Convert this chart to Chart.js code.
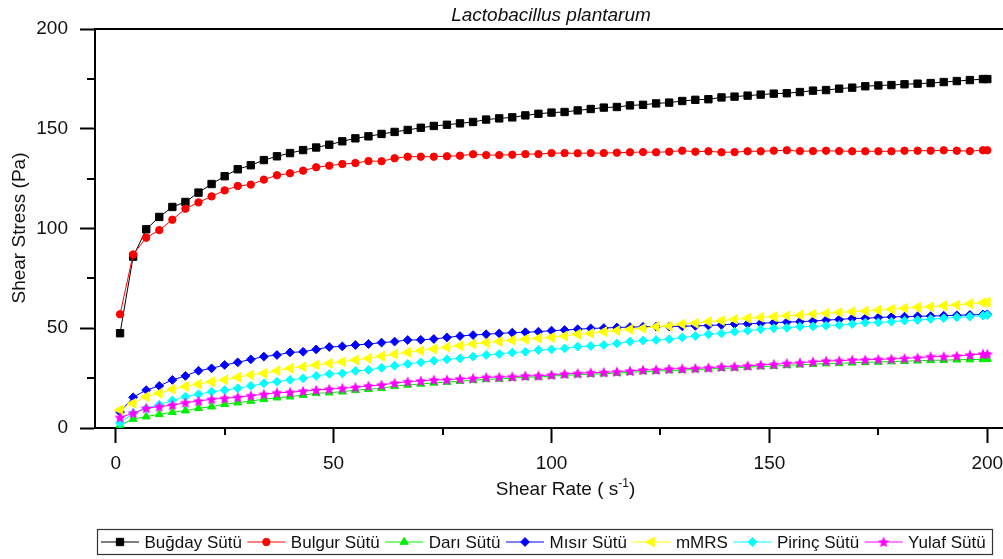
<!DOCTYPE html>
<html>
<head>
<meta charset="utf-8">
<title>Lactobacillus plantarum</title>
<script src="https://cdn.jsdelivr.net/npm/chart.js@4.4.1/dist/chart.umd.min.js"></script>
<style>
  html, body { margin: 0; padding: 0; background: #fff; overflow: hidden; }
  #wrap { width: 1003px; height: 559px; }
</style>
</head>
<body>
<div id="wrap"><canvas id="flowChart" width="1003" height="559"></canvas></div>
<script>
// shear rate steps (1/s)
const shearRate = [1, 4, 7, 10, 13, 16, 19, 22, 25, 28, 31, 34, 37, 40, 43, 46, 49, 52, 55, 58,
    61, 64, 67, 70, 73, 76, 79, 82, 85, 88, 91, 94, 97, 100, 103, 106, 109, 112, 115, 118,
    121, 124, 127, 130, 133, 136, 139, 142, 145, 148, 151, 154, 157, 160, 163, 166, 169, 172, 175, 178,
    181, 184, 187, 190, 193, 196, 199, 200];

// shear stress (Pa) for each sample
const bugday = [47.5, 85.9, 99.6, 105.8, 110.8, 113.3, 118.0, 122.3, 126.2, 129.7,
    131.7, 134.3, 136.2, 137.8, 139.3, 140.6, 142.0, 143.7, 145.2, 146.2,
    147.4, 148.4, 149.4, 150.5, 151.4, 152.0, 152.7, 153.4, 154.6, 155.2,
    155.7, 156.7, 157.5, 158.1, 158.4, 159.2, 159.9, 160.6, 160.9, 161.7,
    162.0, 162.7, 163.1, 163.9, 164.5, 164.8, 165.7, 166.1, 166.6, 167.1,
    167.6, 167.8, 168.4, 169.1, 169.4, 170.1, 170.6, 171.3, 171.7, 171.9,
    172.3, 172.6, 172.9, 173.4, 173.9, 174.4, 174.9, 174.9];
const bulgur = [57.0, 87.0, 95.4, 99.2, 104.4, 109.9, 113.1, 116.1, 119.1, 121.3,
    122.0, 124.5, 126.7, 127.7, 129.0, 130.7, 131.5, 132.3, 132.8, 133.8,
    133.7, 135.2, 136.0, 136.0, 136.0, 136.2, 136.5, 137.2, 136.8, 136.8,
    137.0, 137.3, 137.3, 137.8, 137.8, 137.7, 137.8, 137.8, 138.0, 138.2,
    138.3, 138.2, 138.5, 139.0, 138.5, 138.7, 138.2, 138.3, 138.7, 138.7,
    139.0, 139.2, 138.8, 138.8, 139.0, 138.8, 138.7, 138.7, 138.7, 138.7,
    139.0, 139.0, 139.0, 139.2, 139.0, 138.8, 139.2, 139.2];
const dari = [1.5, 4.5, 5.7, 6.9, 7.9, 8.7, 9.9, 10.7, 11.9, 12.7,
    13.5, 14.4, 15.2, 15.7, 16.5, 17.4, 17.7, 18.2, 19.0, 19.4,
    19.9, 21.0, 21.6, 22.1, 22.6, 23.0, 23.5, 23.9, 24.4, 24.6,
    25.0, 25.4, 25.6, 26.0, 26.4, 26.7, 27.0, 27.2, 27.5, 27.9,
    28.3, 28.5, 28.8, 29.0, 29.3, 29.6, 29.9, 30.1, 30.5, 30.8,
    31.0, 31.4, 31.7, 32.0, 32.3, 32.4, 32.7, 32.9, 33.1, 33.3,
    33.5, 33.7, 33.9, 34.0, 34.2, 34.3, 34.4, 34.5];
const misir = [8.0, 15.4, 19.0, 21.1, 24.1, 26.1, 28.7, 29.9, 31.6, 32.9,
    34.4, 35.8, 36.6, 37.9, 38.2, 39.4, 40.6, 40.9, 41.6, 42.1,
    42.8, 43.3, 44.1, 44.2, 44.6, 45.4, 46.1, 46.6, 47.0, 47.4,
    47.8, 48.0, 48.3, 48.8, 49.1, 49.5, 49.9, 50.1, 50.4, 50.6,
    50.7, 50.8, 50.9, 51.0, 51.2, 51.4, 51.7, 52.1, 52.2, 52.5,
    52.8, 53.1, 53.3, 53.6, 54.1, 54.4, 54.9, 55.0, 55.4, 55.7,
    55.8, 56.0, 56.1, 56.3, 56.5, 56.7, 56.9, 57.0];
const mmrs = [9.0, 12.4, 15.7, 17.4, 19.4, 20.8, 22.0, 23.2, 24.1, 25.4,
    26.6, 27.4, 28.7, 29.9, 30.7, 31.6, 32.4, 33.2, 34.1, 34.9,
    36.0, 37.0, 37.9, 38.8, 39.6, 40.5, 41.3, 42.1, 42.8, 43.4,
    44.0, 44.5, 45.0, 45.4, 46.1, 47.0, 47.4, 48.3, 48.8, 49.5,
    50.0, 50.8, 51.1, 52.1, 52.5, 53.3, 53.8, 54.5, 55.0, 55.5,
    55.8, 56.3, 56.6, 57.1, 57.5, 58.0, 58.3, 58.6, 59.1, 59.5,
    60.0, 60.5, 60.8, 61.3, 61.7, 62.3, 62.8, 63.0];
const pirinc = [2.5, 7.5, 9.8, 11.7, 13.8, 15.7, 16.9, 18.2, 19.0, 19.9,
    21.1, 22.4, 23.2, 24.1, 24.9, 26.1, 27.1, 27.4, 28.6, 29.1,
    30.2, 31.2, 32.1, 32.9, 33.7, 34.4, 34.9, 35.8, 36.6, 37.1,
    37.8, 38.2, 39.1, 39.4, 39.9, 40.8, 41.1, 41.6, 42.4, 43.3,
    43.8, 44.1, 44.5, 45.4, 46.1, 47.0, 47.4, 48.3, 48.8, 49.5,
    50.0, 50.2, 50.8, 50.9, 51.3, 51.6, 52.1, 52.8, 52.9, 53.3,
    53.8, 54.1, 54.6, 55.0, 55.5, 55.8, 56.3, 56.6];
const yulaf = [5.3, 7.4, 9.9, 10.7, 11.5, 12.7, 13.5, 14.4, 14.9, 15.4,
    16.2, 16.9, 17.7, 17.9, 18.5, 19.0, 19.5, 19.9, 20.4, 21.1,
    21.6, 22.5, 23.2, 23.6, 24.1, 24.2, 24.6, 24.9, 25.4, 25.5,
    25.7, 26.1, 26.2, 26.6, 27.1, 27.4, 27.7, 27.9, 28.2, 28.6,
    29.1, 29.2, 29.6, 29.7, 29.9, 30.2, 30.7, 30.8, 31.2, 31.6,
    31.9, 32.4, 32.7, 33.2, 33.6, 33.7, 34.1, 34.2, 34.4, 34.6,
    34.9, 35.2, 35.8, 35.8, 36.1, 36.6, 37.1, 37.1];

const seriesNames = ['Buğday Sütü', 'Bulgur Sütü', 'Darı Sütü', 'Mısır Sütü', 'mMRS', 'Pirinç Sütü', 'Yulaf Sütü'];
const seriesValues = [bugday, bulgur, dari, misir, mmrs, pirinc, yulaf];
const seriesColors = ['#000000', '#ff0000', '#00ee00', '#0000ff', '#ffff00', '#00ffff', '#ff00ff'];

const xTicks = [0, 50, 100, 150, 200];
const yTicks = [0, 50, 100, 150, 200];
const xMinorTicks = [25, 75, 125, 175];
const yMinorTicks = [25, 75, 125, 175];
const X_MIN = -4.75, X_MAX = 203.6;
const Y_MIN = 0, Y_MAX = 200;

const FONT = '"Liberation Sans", Arial, sans-serif';
const INK = '#111111';

// filled five-point star, used as a point image
function starImage(color, size) {
    const c = document.createElement('canvas');
    c.width = size;
    c.height = size;
    const g = c.getContext('2d');
    const cx = size / 2, cy = size / 2 + 0.5, outer = size / 2, inner = outer * 0.45;
    g.beginPath();
    for (let i = 0; i < 10; i++) {
        const r = i % 2 ? inner : outer;
        const a = -Math.PI / 2 + i * Math.PI / 5;
        g.lineTo(cx + r * Math.cos(a), cy + r * Math.sin(a));
    }
    g.closePath();
    g.fillStyle = color;
    g.fill();
    return c;
}

const markers = [
    { style: 'rect', radius: 5.2, rotation: 0 },
    { style: 'circle', radius: 3.7, rotation: 0 },
    { style: 'triangle', radius: 4.6, rotation: 0 },
    { style: 'rectRot', radius: 4.4, rotation: 0 },
    { style: 'triangle', radius: 5.6, rotation: -90 },
    { style: 'rectRot', radius: 4.4, rotation: 0 },
    { style: starImage('#ff00ff', 12), radius: 5, rotation: 0 },
];

const datasets = seriesNames.map((name, i) => ({
    label: name,
    data: shearRate.map((x, j) => ({ x: x, y: seriesValues[i][j] })),
    borderColor: seriesColors[i],
    backgroundColor: seriesColors[i],
    borderWidth: 1,
    pointStyle: markers[i].style,
    pointRadius: markers[i].radius,
    pointRotation: markers[i].rotation,
    pointBorderWidth: 1,
    pointBorderColor: seriesColors[i],
    pointBackgroundColor: seriesColors[i],
    tension: 0,
    clip: false,
    order: seriesNames.length - 1 - i,
}));

// frame, minor ticks, titles and the boxed legend underneath
const decorations = {
    id: 'decorations',
    afterDraw(chart) {
        const ctx = chart.ctx;
        const area = chart.chartArea;
        const xs = chart.scales.x, ys = chart.scales.y;
        ctx.save();

        ctx.strokeStyle = '#000';
        ctx.lineWidth = 2;
        ctx.beginPath();
        ctx.moveTo(area.left, area.top);
        ctx.lineTo(area.right, area.top);
        yMinorTicks.forEach(v => {
            const py = Math.round(ys.getPixelForValue(v));
            ctx.moveTo(area.left - 8, py);
            ctx.lineTo(area.left, py);
        });
        xMinorTicks.forEach(v => {
            const px = Math.round(xs.getPixelForValue(v));
            ctx.moveTo(px, area.bottom);
            ctx.lineTo(px, area.bottom + 7);
        });
        ctx.stroke();

        ctx.fillStyle = INK;
        ctx.textBaseline = 'alphabetic';

        ctx.font = 'italic 19px ' + FONT;
        ctx.textAlign = 'center';
        ctx.fillText('Lactobacillus plantarum', 551, 21);

        ctx.font = '19px ' + FONT;
        ctx.save();
        ctx.translate(25, 228);
        ctx.rotate(-Math.PI / 2);
        ctx.fillText('Shear Stress (Pa)', 0, 0);
        ctx.restore();

        // x title with superscript unit
        const main = 'Shear Rate ( s', sup = '-1', tail = ')';
        ctx.textAlign = 'left';
        ctx.font = '19px ' + FONT;
        const w1 = ctx.measureText(main).width, w3 = ctx.measureText(tail).width;
        ctx.font = '12px ' + FONT;
        const w2 = ctx.measureText(sup).width;
        let tx = 565.5 - (w1 + w2 + w3) / 2;
        ctx.font = '19px ' + FONT;
        ctx.fillText(main, tx, 495);
        ctx.font = '12px ' + FONT;
        ctx.fillText(sup, tx + w1, 487);
        ctx.font = '19px ' + FONT;
        ctx.fillText(tail, tx + w1 + w2, 495);

        // legend
        ctx.strokeStyle = '#333';
        ctx.lineWidth = 1.2;
        ctx.strokeRect(97.5, 529.5, 895, 25);
        ctx.font = '17px ' + FONT;
        let lx = 101;
        const ly = 542;
        seriesNames.forEach((name, i) => {
            ctx.strokeStyle = seriesColors[i];
            ctx.fillStyle = seriesColors[i];
            ctx.lineWidth = 1;
            ctx.beginPath();
            ctx.moveTo(lx, ly);
            ctx.lineTo(lx + 38, ly);
            ctx.stroke();
            Chart.helpers.drawPoint(ctx, {
                pointStyle: markers[i].style,
                rotation: markers[i].rotation,
                radius: markers[i].radius,
                borderWidth: 1,
            }, lx + 19, ly);
            ctx.fillStyle = INK;
            ctx.fillText(name, lx + 43.5, 547.5);
            lx += 43.5 + ctx.measureText(name).width + 5.5;
        });

        ctx.restore();
    }
};

new Chart(document.getElementById('flowChart'), {
    type: 'line',
    data: { datasets: datasets },
    options: {
        responsive: false,
        animation: false,
        events: [],
        layout: { autoPadding: false, padding: { top: 29, left: 0, right: 0, bottom: 0 } },
        plugins: {
            legend: { display: false },
            title: { display: false },
            tooltip: { enabled: false },
        },
        scales: {
            x: {
                type: 'linear',
                min: X_MIN,
                max: X_MAX,
                afterBuildTicks: s => { s.ticks = xTicks.map(v => ({ value: v })); },
                afterFit: s => { s.height = 131; s.paddingLeft = 0; s.paddingRight = 0; },
                ticks: { font: { family: FONT, size: 19 }, color: INK, padding: 9, maxRotation: 0, autoSkip: false },
                grid: { drawOnChartArea: false, tickLength: 15, tickWidth: 2, tickColor: '#000' },
                border: { color: '#000', width: 2 },
            },
            y: {
                type: 'linear',
                min: Y_MIN,
                max: Y_MAX,
                afterBuildTicks: s => { s.ticks = yTicks.map(v => ({ value: v })); },
                afterFit: s => { s.width = 95; s.paddingTop = 0; s.paddingBottom = 0; },
                ticks: { font: { family: FONT, size: 19 }, color: INK, padding: 12, autoSkip: false },
                grid: { drawOnChartArea: false, tickLength: 15, tickWidth: 2, tickColor: '#000' },
                border: { color: '#000', width: 2 },
            },
        },
    },
    plugins: [decorations],
});
</script>
</body>
</html>
